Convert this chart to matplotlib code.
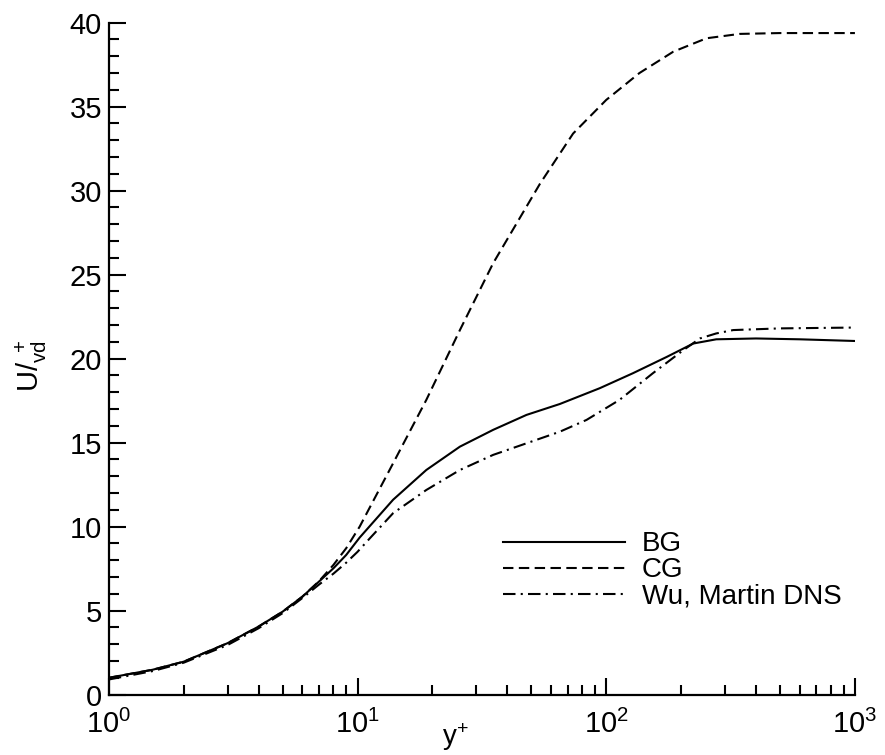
import matplotlib
matplotlib.use('Agg')
import matplotlib.pyplot as plt
from matplotlib.ticker import MultipleLocator

plt.rcParams['font.family'] = ['Liberation Sans', 'DejaVu Sans']
plt.rcParams['mathtext.default'] = 'regular'

# BG (solid)
bg_x = [1, 1.5, 2, 3, 4, 5, 6, 7, 8, 9, 10.2, 13.9, 18.9, 25.8, 35.1, 47.8, 65.1, 94.2, 128, 175, 224, 277, 400, 600, 1000]
bg_y = [1.0, 1.48, 1.96, 3.06, 4.05, 4.94, 5.83, 6.73, 7.52, 8.31, 9.35, 11.6, 13.37, 14.76, 15.76, 16.65, 17.3, 18.24, 19.13, 20.1, 20.9, 21.15, 21.2, 21.15, 21.05]

# CG (dashed)
cg_x = [1, 1.5, 2, 3, 4, 5, 6, 7, 8, 9, 10.2, 13.9, 18.9, 25.8, 35.1, 47.8, 54.1, 73.6, 100, 136, 186, 253, 344, 500, 1000]
cg_y = [1.0, 1.48, 1.96, 3.06, 4.05, 4.94, 5.83, 6.75, 7.72, 8.71, 10.0, 13.77, 17.54, 21.7, 25.68, 29.05, 30.4, 33.4, 35.4, 37.0, 38.27, 39.07, 39.33, 39.38, 39.38]

# Wu, Martin DNS (dash-dot)
wu_x = [1, 1.5, 2, 3, 4, 5, 6, 7, 8, 9, 10, 11.2, 13.9, 18.9, 25.8, 35.1, 47.8, 65.1, 83.3, 113, 154, 204, 238, 277, 324, 500, 1000]
wu_y = [0.9, 1.4, 1.9, 2.95, 3.95, 4.85, 5.75, 6.55, 7.2, 7.85, 8.5, 9.3, 10.8, 12.18, 13.37, 14.27, 14.96, 15.65, 16.35, 17.54, 19.13, 20.5, 21.2, 21.5, 21.7, 21.8, 21.85]

fig = plt.figure(figsize=(8.85, 7.55), dpi=100)
ax = fig.add_axes([0.123, 0.08, 0.843, 0.89])

ax.plot(bg_x, bg_y, color='black', lw=1.5, linestyle='-', label='BG')
ax.plot(cg_x, cg_y, color='black', lw=1.5, linestyle=(0, (5, 2.6)), label='CG')
ax.plot(wu_x, wu_y, color='black', lw=1.5, linestyle=(0, (6, 2.5, 1, 2.5)), label='Wu, Martin DNS')

ax.set_xscale('log')
ax.set_xlim(1, 1000)
ax.set_ylim(0, 40)
ax.yaxis.set_major_locator(MultipleLocator(5))
ax.yaxis.set_minor_locator(MultipleLocator(1))

for s in ['top', 'right']:
    ax.spines[s].set_visible(False)
for s in ['left', 'bottom']:
    ax.spines[s].set_linewidth(1.6)

ax.tick_params(which='both', direction='in', top=False, right=False, labelsize=21, width=1.5)
ax.tick_params(which='major', length=12)
ax.tick_params(axis='y', which='major', pad=5)
ax.tick_params(axis='x', which='major', pad=11)
ax.tick_params(which='minor', length=7)

ax.set_xlabel('$y^{+}$', fontsize=20)
ax.xaxis.set_label_coords(0.465, -0.04)
ax.set_ylabel('$U/_{vd}^{\\ +}$', fontsize=21)
ax.yaxis.set_label_coords(-0.08, 0.49)

ax.legend(loc='upper left', bbox_to_anchor=(0.495, 0.28), frameon=False, fontsize=20,
          handlelength=4.4, handletextpad=0.6, labelspacing=0.0)

fig.savefig('out.png')
